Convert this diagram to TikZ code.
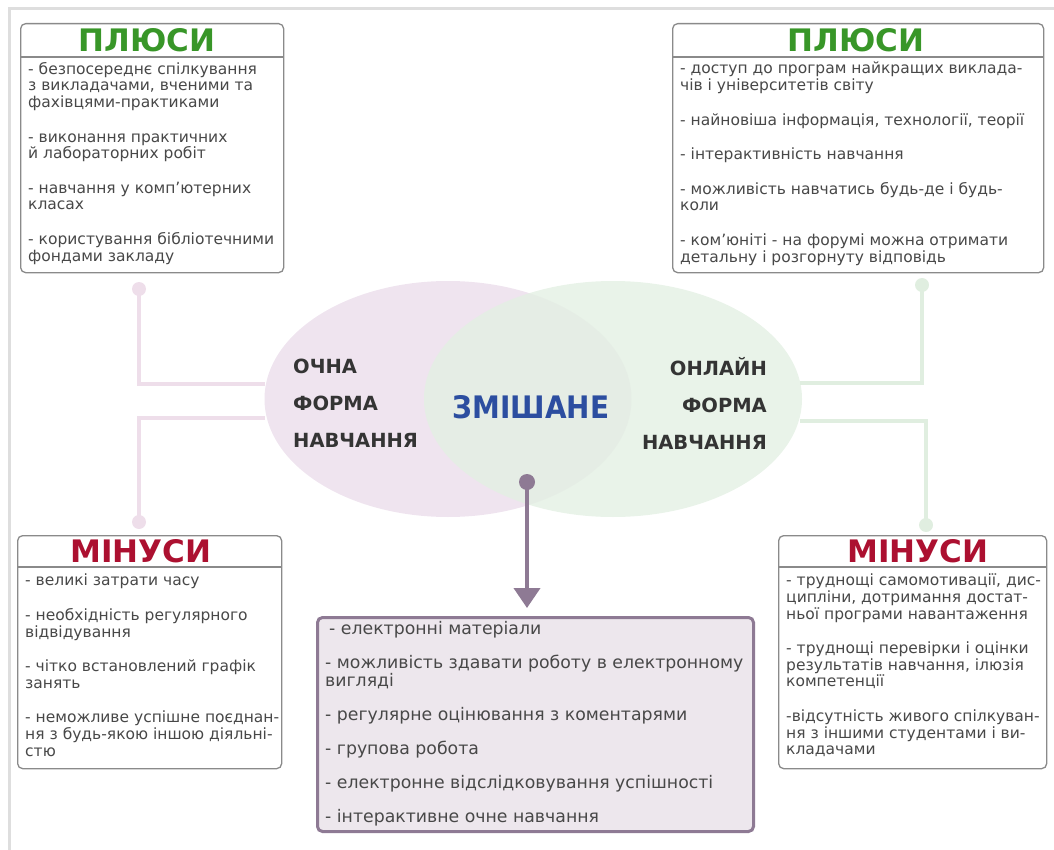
\documentclass[tikz,border=0pt]{standalone}
\usepackage{fontspec}
\setmainfont{DejaVu Sans}
\newfontfamily\condfont{DejaVu Sans Condensed}
\usetikzlibrary{positioning}
\usetikzlibrary{calc}
\usetikzlibrary{arrows.meta}
\usetikzlibrary{shapes.geometric}

\definecolor{plusgreen}{RGB}{56,150,40}
\definecolor{minusred}{RGB}{172,16,48}
\definecolor{mixblue}{RGB}{44,78,160}
\definecolor{bodygrey}{RGB}{72,72,72}
\definecolor{formgrey}{RGB}{52,52,52}
\definecolor{framegrey}{RGB}{138,138,138}
\definecolor{pagegrey}{RGB}{222,222,222}
\definecolor{pinkfill}{RGB}{239,228,239}
\definecolor{greenfill}{RGB}{227,240,227}
\definecolor{pinkline}{RGB}{238,222,234}
\definecolor{greenline}{RGB}{224,238,224}
\definecolor{mixpurple}{RGB}{142,122,148}
\definecolor{mixfill}{RGB}{237,231,237}

\begin{document}
\begin{tikzpicture}[x=1pt, y=-1pt,
    box/.style={draw=framegrey, line width=1.3pt, rounded corners=5pt, fill=white, anchor=north west, inner sep=0pt},
    headline/.style={draw=framegrey, line width=1.3pt},
    plustitle/.style={font=\fontsize{31}{31}\selectfont\bfseries, text=plusgreen},
    minustitle/.style={font=\fontsize{31}{31}\selectfont\bfseries, text=minusred},
    list/.style={font=\fontsize{15.5}{16.6}\selectfont, text=bodygrey, align=left, anchor=north west, inner sep=0pt},
    mixlist/.style={list, font=\fontsize{17.3}{18}\selectfont},
    form/.style={font=\fontsize{19.5}{37}\selectfont\bfseries, text=formgrey, inner sep=0pt},
    wiredot/.style={circle, minimum size=14pt, inner sep=0pt},
    pinkwire/.style={draw=pinkline, line width=4pt},
    greenwire/.style={draw=greenline, line width=4pt},
  ]
  \useasboundingbox (0,0) rectangle (1054,850);
  \draw[pagegrey, line width=3pt] (9,850) -- (9,9) -- (1054,9);

  % the two forms and the blend
  \node[ellipse, fill=pinkfill, minimum width=367pt, minimum height=236pt, inner sep=0pt] (ochnaEll) at (448,399) {};
  \node[ellipse, fill=greenfill, fill opacity=0.8, minimum width=378pt, minimum height=236pt, inner sep=0pt] (onlineEll) at (613,399) {};
  \node[form, align=left, anchor=west] (ochna) at (293,403) {ОЧНА\\ФОРМА\\НАВЧАННЯ};
  \node[form, align=right, anchor=east] (online) at (767,403) {ОНЛАЙН\\ФОРМА\\НАВЧАННЯ};
  \node[font=\condfont\bfseries\fontsize{31}{31}\selectfont, text=mixblue] (mix) at (531,407) {ЗМІШАНЕ};

  % pluses and minuses of the full-time form
  \node[box, minimum width=263pt, minimum height=249pt] (plusL) at (20,23) {};
  \draw[headline] ([yshift=-34pt]plusL.north west) -- ([yshift=-34pt]plusL.north east);
  \node[plustitle] (plusLt) at ([xshift=-5pt, yshift=-17pt]plusL.north) {ПЛЮСИ};
  \node[list] (plusLx) at (28,62) {- безпосереднє спілкування\\з викладачами, вченими та\\фахівцями-практиками\\[18pt]
    - виконання практичних\\й лабораторних робіт\\[18pt]
    - навчання у комп’ютерних\\класах\\[18pt]
    - користування бібліотечними\\фондами закладу};

  \node[box, minimum width=264pt, minimum height=233pt] (minusL) at (17,535) {};
  \draw[headline] ([yshift=-32pt]minusL.north west) -- ([yshift=-32pt]minusL.north east);
  \node[minustitle] (minusLt) at ([xshift=-9pt, yshift=-16pt]minusL.north) {МІНУСИ};
  \node[list] (minusLx) at (25,574) {- великі затрати часу\\[18pt]
    - необхідність регулярного\\відвідування\\[18pt]
    - чітко встановлений графік\\занять\\[18pt]
    - неможливе успішне поєднан-\\ня з будь-якою іншою діяльні-\\стю};

  % pluses and minuses of the online form
  \node[box, minimum width=371pt, minimum height=249pt] (plusR) at (672,23) {};
  \draw[headline] ([yshift=-34pt]plusR.north west) -- ([yshift=-34pt]plusR.north east);
  \node[plustitle] (plusRt) at ([xshift=-2pt, yshift=-17pt]plusR.north) {ПЛЮСИ};
  \node[list] (plusRx) at (680,62) {- доступ до програм найкращих виклада-\\чів і університетів світу\\[18pt]
    - найновіша інформація, технології, теорії\\[18pt]
    - інтерактивність навчання\\[18pt]
    - можливість навчатись будь-де і будь-\\коли\\[18pt]
    - ком’юніті - на форумі можна отримати\\детальну і розгорнуту відповідь};

  \node[box, minimum width=268pt, minimum height=233pt] (minusR) at (778,535) {};
  \draw[headline] ([yshift=-32pt]minusR.north west) -- ([yshift=-32pt]minusR.north east);
  \node[minustitle] (minusRt) at ([xshift=5pt, yshift=-16pt]minusR.north) {МІНУСИ};
  \node[list] (minusRx) at (786,574) {- труднощі самомотивації, дис-\\ципліни, дотримання достат-\\ньої програми навантаження\\[18pt]
    - труднощі перевірки і оцінки\\результатів навчання, ілюзія\\компетенції\\[18pt]
    -відсутність живого спілкуван-\\ня з іншими студентами і ви-\\кладачами};

  % blended learning
  \node[box, draw=mixpurple, fill=mixfill, line width=3pt, minimum width=436pt, minimum height=214pt] (mixBox) at (316,616) {};
  \node[mixlist] (mixx) at (325,621) {\hspace*{4pt}- електронні матеріали\\[16pt]
    - можливість здавати роботу в електронному\\вигляді\\[16pt]
    - регулярне оцінювання з коментарями\\[16pt]
    - групова робота\\[16pt]
    - електронне відслідковування успішності\\[16pt]
    - інтерактивне очне навчання};

  % wires
  \node[wiredot, fill=pinkline] (dotTL) at (139,289) {};
  \node[wiredot, fill=pinkline] (dotBL) at (139,522) {};
  \node[wiredot, fill=greenline] (dotTR) at (922,285) {};
  \node[wiredot, fill=greenline] (dotBR) at (926,525) {};
  \coordinate (jTL) at (265,384);
  \coordinate (jBL) at (265,418);
  \coordinate (jTR) at (800,383);
  \coordinate (jBR) at (800,421);
  \draw[pinkwire] (dotTL.center) |- (jTL);
  \draw[pinkwire] (jBL) -| (dotBL.center);
  \draw[greenwire] (dotTR.center) |- (jTR);
  \draw[greenwire] (jBR) -| (dotBR.center);

  \node[wiredot, fill=mixpurple, minimum size=16pt] (dotMix) at (527,482) {};
  \draw[mixpurple, line width=4pt, -{Triangle[width=26pt,length=20pt]}, shorten >=8pt] (dotMix.center) -- (dotMix |- mixBox.north);
\end{tikzpicture}
\end{document}
